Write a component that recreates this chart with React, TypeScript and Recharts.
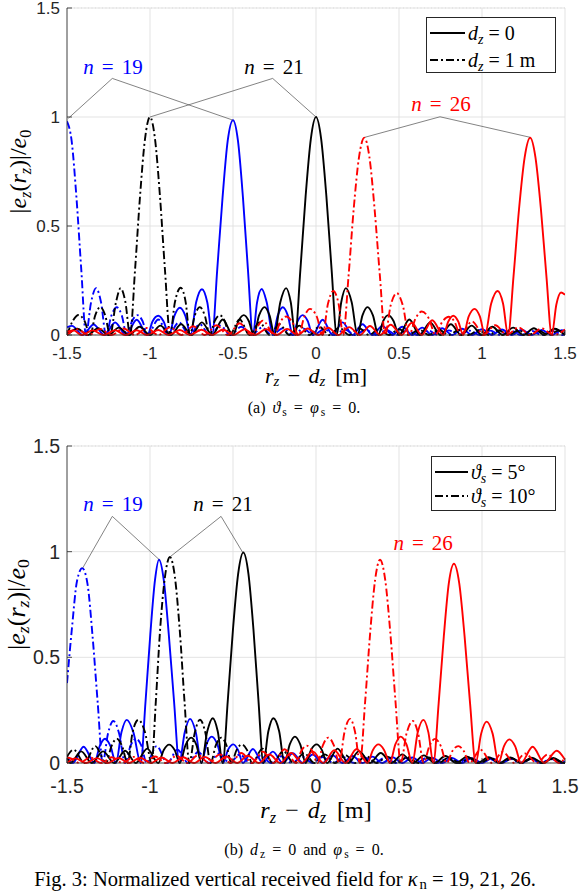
import React from 'react';
import { LineChart, Line, XAxis, YAxis, CartesianGrid, ReferenceLine, ReferenceDot } from 'recharts';

type Pt = [number, number];

const X_TICKS = [-1.5, -1, -0.5, 0, 0.5, 1, 1.5];
const X_MINOR = [-1.5, -1.4, -1.3, -1.2, -1.1, -1, -0.9, -0.8, -0.7, -0.6, -0.5, -0.4, -0.3, -0.2, -0.1, 0, 0.1, 0.2, 0.3, 0.4, 0.5, 0.6, 0.7, 0.8, 0.9, 1, 1.1, 1.2, 1.3, 1.4, 1.5];
const Y_TICKS = [0, 0.5, 1, 1.5];
const Y_MINOR = [0, 0.1, 0.2, 0.3, 0.4, 0.5, 0.6, 0.7, 0.8, 0.9, 1, 1.1, 1.2, 1.3, 1.4, 1.5];

// (a) theta_s = phi_s = 0 ; solid dz = 0, dash-dot dz = 1 m
const A_BLUE_SOLID: Pt[] = [[-1.5,0.035],[-1.47,0.042],[-1.405,0],[-1.34,0.048],[-1.275,0],[-1.21,0.057],[-1.145,0],[-1.08,0.07],[-1.015,0],[-0.985,0.062],[-0.95,0.088],[-0.918,0.062],[-0.885,0],[-0.853,0.088],[-0.82,0.125],[-0.787,0.088],[-0.755,0],[-0.722,0.15],[-0.687,0.21],[-0.655,0.15],[-0.625,0],[-0.595,0.3],[-0.563,0.63],[-0.532,0.89],[-0.5,0.985],[-0.47,0.89],[-0.44,0.63],[-0.41,0.3],[-0.38,0],[-0.355,0.15],[-0.327,0.211],[-0.297,0.15],[-0.26,0],[-0.23,0.09],[-0.2,0.127],[-0.17,0.09],[-0.14,0],[-0.11,0.064],[-0.08,0.091],[-0.05,0.064],[-0.02,0],[0.04,0.07],[0.1,0],[0.16,0.058],[0.22,0],[0.28,0.049],[0.34,0],[0.4,0.042],[0.46,0],[0.52,0.038],[0.58,0],[0.64,0.034],[0.7,0],[0.76,0.031],[0.82,0],[0.88,0.029],[0.94,0],[1.0,0.027],[1.06,0],[1.12,0.025],[1.18,0],[1.24,0.024],[1.3,0],[1.36,0.023],[1.42,0],[1.48,0.022],[1.5,0.02]];
const A_BLUE_DD: Pt[] = [[-1.5,0.98],[-1.472,0.89],[-1.443,0.63],[-1.414,0.3],[-1.386,0],[-1.355,0.15],[-1.325,0.215],[-1.295,0.15],[-1.265,0],[-1.232,0.09],[-1.2,0.127],[-1.17,0.09],[-1.14,0],[-1.108,0.064],[-1.075,0.091],[-1.045,0.064],[-1.015,0],[-0.95,0.071],[-0.89,0],[-0.825,0.058],[-0.765,0],[-0.7,0.049],[-0.64,0],[-0.575,0.043],[-0.515,0],[-0.45,0.038],[-0.39,0],[-0.325,0.034],[-0.265,0],[-0.2,0.031],[-0.14,0],[-0.075,0.029],[-0.015,0],[0.05,0.027],[0.11,0],[0.175,0.025],[0.235,0],[0.3,0.024],[0.36,0],[0.425,0.023],[0.485,0],[0.55,0.022],[0.61,0],[0.675,0.021],[0.735,0],[0.8,0.021],[0.86,0],[0.925,0.02],[0.985,0],[1.05,0.02],[1.11,0],[1.175,0.02],[1.235,0],[1.3,0.019],[1.36,0],[1.425,0.019],[1.485,0],[1.5,0.005]];
const A_BLACK_SOLID: Pt[] = [[-1.5,0],[-1.4375,0.029],[-1.375,0],[-1.3125,0.031],[-1.25,0],[-1.1875,0.034],[-1.125,0],[-1.0625,0.038],[-1.0,0],[-0.9375,0.043],[-0.875,0],[-0.8125,0.049],[-0.75,0],[-0.6875,0.058],[-0.625,0],[-0.562,0.071],[-0.5,0],[-0.467,0.064],[-0.435,0.091],[-0.405,0.064],[-0.375,0],[-0.343,0.09],[-0.31,0.128],[-0.28,0.09],[-0.25,0],[-0.215,0.15],[-0.18,0.215],[-0.152,0.15],[-0.125,0],[-0.094,0.3],[-0.0625,0.637],[-0.031,0.9],[0,1],[0.031,0.9],[0.0625,0.637],[0.094,0.3],[0.125,0],[0.152,0.15],[0.18,0.215],[0.215,0.15],[0.25,0],[0.28,0.09],[0.31,0.128],[0.343,0.09],[0.375,0],[0.405,0.064],[0.435,0.091],[0.467,0.064],[0.5,0],[0.562,0.071],[0.625,0],[0.6875,0.058],[0.75,0],[0.8125,0.049],[0.875,0],[0.9375,0.043],[1.0,0],[1.0625,0.038],[1.125,0],[1.1875,0.034],[1.25,0],[1.3125,0.031],[1.375,0],[1.4375,0.029],[1.5,0]];
const A_BLACK_DD: Pt[] = [[-1.5,0],[-1.465,0.065],[-1.43,0.092],[-1.395,0.065],[-1.36,0],[-1.33,0.09],[-1.3,0.128],[-1.27,0.09],[-1.24,0],[-1.205,0.15],[-1.177,0.215],[-1.148,0.15],[-1.12,0],[-1.09,0.3],[-1.06,0.637],[-1.03,0.9],[-1.0,1.0],[-0.97,0.9],[-0.94,0.637],[-0.91,0.3],[-0.879,0],[-0.85,0.15],[-0.815,0.217],[-0.785,0.15],[-0.76,0],[-0.73,0.09],[-0.7,0.128],[-0.67,0.09],[-0.64,0],[-0.61,0.064],[-0.58,0.091],[-0.55,0.064],[-0.52,0],[-0.46,0.071],[-0.4,0],[-0.34,0.058],[-0.28,0],[-0.22,0.049],[-0.16,0],[-0.1,0.043],[-0.04,0],[0.02,0.038],[0.08,0],[0.14,0.034],[0.2,0],[0.26,0.031],[0.32,0],[0.38,0.029],[0.44,0],[0.5,0.027],[0.56,0],[0.62,0.025],[0.68,0],[0.74,0.024],[0.8,0],[0.86,0.023],[0.92,0],[0.98,0.022],[1.04,0],[1.1,0.021],[1.16,0],[1.22,0.021],[1.28,0],[1.34,0.02],[1.4,0],[1.46,0.02],[1.5,0.012]];
const A_RED_SOLID: Pt[] = [[-1.5,0.015],[-1.46,0.021],[-1.412,0],[-1.345,0.021],[-1.281,0],[-1.21,0.022],[-1.149,0],[-1.08,0.022],[-1.018,0],[-0.95,0.023],[-0.889,0],[-0.82,0.023],[-0.759,0],[-0.69,0.024],[-0.627,0],[-0.56,0.025],[-0.498,0],[-0.43,0.026],[-0.367,0],[-0.3,0.027],[-0.237,0],[-0.174,0.028],[-0.111,0],[-0.05,0.03],[0.014,0],[0.074,0.033],[0.134,0],[0.2,0.036],[0.265,0],[0.325,0.041],[0.386,0],[0.45,0.047],[0.516,0],[0.577,0.056],[0.637,0],[0.7,0.068],[0.767,0],[0.797,0.062],[0.827,0.088],[0.857,0.062],[0.887,0],[0.92,0.085],[0.955,0.12],[0.987,0.085],[1.018,0],[1.055,0.143],[1.094,0.202],[1.127,0.143],[1.157,0],[1.19,0.27],[1.223,0.577],[1.257,0.815],[1.29,0.905],[1.322,0.815],[1.355,0.577],[1.388,0.27],[1.42,0],[1.448,0.14],[1.476,0.195],[1.5,0.185]];
const A_RED_DD: Pt[] = [[-1.5,0],[-1.44,0.026],[-1.37,0],[-1.3,0.028],[-1.23,0],[-1.16,0.03],[-1.09,0],[-1.02,0.032],[-0.95,0],[-0.88,0.035],[-0.81,0],[-0.74,0.04],[-0.67,0],[-0.6,0.045],[-0.53,0],[-0.46,0.054],[-0.39,0],[-0.32,0.066],[-0.25,0],[-0.215,0.06],[-0.18,0.085],[-0.143,0.06],[-0.105,0],[-0.07,0.085],[-0.036,0.12],[0.004,0.085],[0.04,0],[0.072,0.143],[0.104,0.202],[0.136,0.143],[0.164,0],[0.196,0.27],[0.227,0.577],[0.259,0.815],[0.291,0.905],[0.322,0.815],[0.353,0.577],[0.385,0.27],[0.416,0],[0.45,0.136],[0.486,0.192],[0.523,0.136],[0.56,0],[0.6,0.076],[0.637,0.108],[0.68,0.076],[0.72,0],[0.76,0.06],[0.8,0.084],[0.835,0.06],[0.87,0],[0.94,0.062],[1.01,0],[1.08,0.045],[1.15,0],[1.22,0.035],[1.29,0],[1.36,0.03],[1.43,0],[1.5,0.025]];

// (b) dz = 0, phi_s = 0 ; solid theta_s = 5 deg, dash-dot theta_s = 10 deg
const B_BLUE_SOLID: Pt[] = [[-1.5,0.03],[-1.465,0],[-1.4,0.077],[-1.335,0],[-1.303,0.08],[-1.271,0.115],[-1.238,0.08],[-1.205,0],[-1.172,0.145],[-1.14,0.204],[-1.1,0.145],[-1.056,0],[-1.027,0.29],[-0.998,0.61],[-0.97,0.865],[-0.946,0.962],[-0.917,0.865],[-0.887,0.61],[-0.855,0.29],[-0.824,0],[-0.79,0.148],[-0.759,0.209],[-0.725,0.148],[-0.69,0],[-0.66,0.088],[-0.628,0.125],[-0.594,0.088],[-0.56,0],[-0.53,0.062],[-0.498,0.088],[-0.47,0.062],[-0.44,0],[-0.38,0.066],[-0.32,0],[-0.26,0.054],[-0.2,0],[-0.14,0.046],[-0.08,0],[-0.02,0.04],[0.04,0],[0.1,0.036],[0.16,0],[0.22,0.033],[0.28,0],[0.34,0.03],[0.4,0],[0.46,0.028],[0.52,0],[0.58,0.026],[0.64,0],[0.7,0.025],[0.76,0],[0.82,0.024],[0.88,0],[0.94,0.023],[1.0,0],[1.06,0.022],[1.12,0],[1.18,0.022],[1.24,0],[1.3,0.021],[1.36,0],[1.42,0.021],[1.48,0],[1.5,0.008]];
const B_BLUE_DD: Pt[] = [[-1.5,0.378],[-1.47,0.64],[-1.44,0.86],[-1.408,0.922],[-1.377,0.85],[-1.346,0.6],[-1.315,0.285],[-1.285,0],[-1.253,0.14],[-1.221,0.199],[-1.186,0.14],[-1.15,0],[-1.117,0.082],[-1.084,0.115],[-1.052,0.082],[-1.02,0],[-0.96,0.08],[-0.895,0],[-0.835,0.063],[-0.77,0],[-0.71,0.052],[-0.645,0],[-0.585,0.045],[-0.52,0],[-0.46,0.04],[-0.395,0],[-0.335,0.035],[-0.27,0],[-0.21,0.032],[-0.145,0],[-0.085,0.03],[-0.02,0],[0.04,0.028],[0.105,0],[0.165,0.027],[0.23,0],[0.29,0.026],[0.355,0],[0.415,0.025],[0.48,0],[0.54,0.024],[0.605,0],[0.665,0.023],[0.73,0],[0.79,0.022],[0.855,0],[0.915,0.022],[0.98,0],[1.04,0.021],[1.105,0],[1.165,0.021],[1.23,0],[1.29,0.02],[1.355,0],[1.415,0.02],[1.48,0],[1.5,0.006]];
const B_BLACK_SOLID: Pt[] = [[-1.5,0.03],[-1.48,0],[-1.415,0.055],[-1.35,0],[-1.283,0.055],[-1.215,0],[-1.15,0.058],[-1.085,0],[-1.017,0.068],[-0.95,0],[-0.917,0.062],[-0.885,0.087],[-0.852,0.062],[-0.82,0],[-0.786,0.085],[-0.752,0.12],[-0.72,0.085],[-0.69,0],[-0.655,0.15],[-0.622,0.212],[-0.592,0.15],[-0.562,0],[-0.531,0.3],[-0.5,0.634],[-0.469,0.895],[-0.438,0.996],[-0.407,0.895],[-0.377,0.634],[-0.347,0.3],[-0.317,0],[-0.287,0.15],[-0.257,0.212],[-0.222,0.15],[-0.19,0],[-0.158,0.088],[-0.127,0.125],[-0.095,0.088],[-0.062,0],[-0.03,0.062],[0.004,0.088],[0.035,0.062],[0.067,0],[0.13,0.068],[0.195,0],[0.26,0.056],[0.325,0],[0.39,0.047],[0.455,0],[0.52,0.041],[0.585,0],[0.65,0.036],[0.715,0],[0.78,0.033],[0.845,0],[0.91,0.03],[0.975,0],[1.04,0.028],[1.105,0],[1.17,0.026],[1.235,0],[1.3,0.025],[1.365,0],[1.43,0.024],[1.495,0],[1.5,0.002]];
const B_BLACK_DD: Pt[] = [[-1.5,0.03],[-1.46,0.063],[-1.395,0],[-1.33,0.08],[-1.265,0],[-1.232,0.08],[-1.2,0.115],[-1.168,0.08],[-1.135,0],[-1.105,0.145],[-1.07,0.204],[-1.03,0.145],[-0.99,0],[-0.965,0.29],[-0.94,0.62],[-0.91,0.88],[-0.88,0.975],[-0.85,0.88],[-0.82,0.62],[-0.792,0.29],[-0.763,0],[-0.73,0.145],[-0.699,0.205],[-0.667,0.145],[-0.635,0],[-0.603,0.085],[-0.57,0.12],[-0.54,0.085],[-0.51,0],[-0.478,0.062],[-0.447,0.088],[-0.416,0.062],[-0.385,0],[-0.322,0.068],[-0.26,0],[-0.197,0.056],[-0.135,0],[-0.072,0.047],[-0.01,0],[0.053,0.041],[0.115,0],[0.178,0.036],[0.24,0],[0.3,0.033],[0.365,0],[0.43,0.03],[0.49,0],[0.55,0.028],[0.615,0],[0.68,0.026],[0.74,0],[0.8,0.025],[0.865,0],[0.93,0.024],[0.99,0],[1.05,0.023],[1.115,0],[1.18,0.022],[1.24,0],[1.3,0.021],[1.365,0],[1.43,0.02],[1.49,0],[1.5,0.004]];
const B_RED_SOLID: Pt[] = [[-1.5,0],[-1.45,0.022],[-1.385,0],[-1.32,0.023],[-1.255,0],[-1.19,0.024],[-1.125,0],[-1.06,0.025],[-0.995,0],[-0.93,0.026],[-0.865,0],[-0.8,0.027],[-0.735,0],[-0.67,0.029],[-0.605,0],[-0.54,0.031],[-0.475,0],[-0.41,0.034],[-0.345,0],[-0.28,0.04],[-0.215,0],[-0.15,0.048],[-0.085,0],[-0.02,0.055],[0.045,0],[0.11,0.06],[0.178,0],[0.245,0.066],[0.31,0],[0.343,0.062],[0.376,0.088],[0.41,0.062],[0.445,0],[0.478,0.088],[0.51,0.125],[0.545,0.088],[0.58,0],[0.613,0.145],[0.647,0.204],[0.677,0.145],[0.707,0],[0.739,0.283],[0.77,0.6],[0.8,0.85],[0.831,0.943],[0.863,0.85],[0.895,0.6],[0.928,0.283],[0.962,0],[0.995,0.139],[1.028,0.196],[1.064,0.139],[1.1,0],[1.132,0.079],[1.165,0.112],[1.2,0.079],[1.235,0],[1.305,0.077],[1.375,0],[1.45,0.058],[1.5,0.015]];
const B_RED_DD: Pt[] = [[-1.5,0.024],[-1.49,0.025],[-1.425,0],[-1.36,0.026],[-1.295,0],[-1.23,0.027],[-1.165,0],[-1.1,0.029],[-1.035,0],[-0.97,0.031],[-0.905,0],[-0.84,0.034],[-0.775,0],[-0.71,0.037],[-0.645,0],[-0.58,0.041],[-0.515,0],[-0.45,0.047],[-0.385,0],[-0.32,0.054],[-0.255,0],[-0.19,0.065],[-0.12,0],[-0.088,0.058],[-0.056,0.082],[-0.024,0.058],[0.009,0],[0.042,0.085],[0.074,0.12],[0.107,0.085],[0.14,0],[0.172,0.148],[0.205,0.209],[0.235,0.148],[0.265,0],[0.296,0.29],[0.326,0.613],[0.356,0.866],[0.386,0.962],[0.417,0.866],[0.448,0.613],[0.479,0.29],[0.51,0],[0.546,0.141],[0.583,0.199],[0.615,0.141],[0.648,0],[0.683,0.08],[0.717,0.114],[0.752,0.08],[0.787,0],[0.822,0.057],[0.857,0.08],[0.89,0.057],[0.925,0],[0.99,0.063],[1.06,0],[1.125,0.052],[1.195,0],[1.26,0.045],[1.33,0],[1.395,0.04],[1.465,0],[1.5,0.025]];

const BLUE = '#0000ff';
const BLACK = '#000000';
const RED = '#ff0000';
const AXIS = '#262626';
const SANS = '"Liberation Sans", Arial, sans-serif';
const SERIF = '"Liberation Serif", "Times New Roman", serif';
const DASHDOT = '8 3 2 3';

const A_SERIES = [
  { name: 'n19-dz0', pts: A_BLUE_SOLID, color: BLUE, dashed: false },
  { name: 'n19-dz1', pts: A_BLUE_DD, color: BLUE, dashed: true },
  { name: 'n21-dz0', pts: A_BLACK_SOLID, color: BLACK, dashed: false },
  { name: 'n21-dz1', pts: A_BLACK_DD, color: BLACK, dashed: true },
  { name: 'n26-dz0', pts: A_RED_SOLID, color: RED, dashed: false },
  { name: 'n26-dz1', pts: A_RED_DD, color: RED, dashed: true },
];
const B_SERIES = [
  { name: 'n19-5', pts: B_BLUE_SOLID, color: BLUE, dashed: false },
  { name: 'n19-10', pts: B_BLUE_DD, color: BLUE, dashed: true },
  { name: 'n21-5', pts: B_BLACK_SOLID, color: BLACK, dashed: false },
  { name: 'n21-10', pts: B_BLACK_DD, color: BLACK, dashed: true },
  { name: 'n26-5', pts: B_RED_SOLID, color: RED, dashed: false },
  { name: 'n26-10', pts: B_RED_DD, color: RED, dashed: true },
];

// annotation text position, apex of the leader lines and the peaks they point to
const A_NOTES = [
  { num: '19', color: BLUE, at: [-1.223, 1.229], apex: [-1.227, 1.177], ends: [[-1.492, 0.994], [-0.502, 0.986]] },
  { num: '21', color: BLACK, at: [-0.253, 1.229], apex: [-0.261, 1.177], ends: [[-1.0, 1.0], [0.0, 1.0]] },
  { num: '26', color: RED, at: [0.753, 1.06], apex: [0.747, 1.001], ends: [[0.295, 0.907], [1.289, 0.907]] },
];
const B_NOTES = [
  { num: '19', color: BLUE, at: [-1.223, 1.227], apex: [-1.227, 1.167], ends: [[-1.405, 0.923], [-0.944, 0.962]] },
  { num: '21', color: BLACK, at: [-0.56, 1.227], apex: [-0.572, 1.167], ends: [[-0.88, 0.975], [-0.442, 0.997]] },
  { num: '26', color: RED, at: [0.645, 1.043], apex: [0.645, 1.043], ends: [] as number[][] },
];

const A_LEGEND = [
  { sym: 'd', sub: 'z', rest: ' = 0', dash: undefined },
  { sym: 'd', sub: 'z', rest: ' = 1 m', dash: DASHDOT },
];
const B_LEGEND = [
  { sym: 'ϑ', sub: 's', rest: ' = 5°', dash: undefined },
  { sym: 'ϑ', sub: 's', rest: ' = 10°', dash: DASHDOT },
];

const fmt = (v: number) => String(v);

function BottomTick(props: any) {
  const { x, y, payload, fs, dy } = props;
  return (
    <g>
      <line x1={x} x2={x} y1={y} y2={y - 5} stroke={AXIS} strokeWidth={0.8} />
      <text x={x} y={y + dy} textAnchor="middle" dominantBaseline="central" fontFamily={SANS} fontSize={fs} fill={AXIS}>
        {fmt(payload.value)}
      </text>
    </g>
  );
}

function TopTick(props: any) {
  const { x, y, len } = props;
  return <line x1={x} x2={x} y1={y} y2={y + len} stroke={AXIS} strokeWidth={0.8} />;
}

function LeftTick(props: any) {
  const { x, y, payload, fs } = props;
  return (
    <g>
      <line x1={x} x2={x + 5} y1={y} y2={y} stroke={AXIS} strokeWidth={0.8} />
      <text x={x - 7} y={y} textAnchor="end" dominantBaseline="central" fontFamily={SANS} fontSize={fs} fill={AXIS}>
        {fmt(payload.value)}
      </text>
    </g>
  );
}

function RightTick(props: any) {
  const { x, y } = props;
  return <line x1={x} x2={x - 4} y1={y} y2={y} stroke={AXIS} strokeWidth={0.8} />;
}

function XTitle({ viewBox, fs, dy }: any) {
  const { x, y, width } = viewBox;
  const s = fs * 0.68;
  const d = fs * 0.28;
  return (
    <text x={x + width / 2} y={y + dy} textAnchor="middle" dominantBaseline="central" fontFamily={SERIF} fontSize={fs} fill="#000">
      <tspan fontStyle="italic">r</tspan>
      <tspan fontStyle="italic" fontSize={s} dy={d}>z</tspan>
      <tspan dy={-d} dx={fs * 0.38}>−</tspan>
      <tspan fontStyle="italic" dx={fs * 0.38}>d</tspan>
      <tspan fontStyle="italic" fontSize={s} dy={d}>z</tspan>
      <tspan dy={-d} dx={fs * 0.45}>[m]</tspan>
    </text>
  );
}

function YTitle({ viewBox, fs, cxOff }: any) {
  const { x, y, height } = viewBox;
  const cx = x + cxOff;
  const cy = y + height / 2;
  const s = fs * 0.68;
  const d = fs * 0.28;
  return (
    <text x={cx} y={cy} transform={`rotate(-90, ${cx}, ${cy})`} textAnchor="middle" dominantBaseline="central" fontFamily={SERIF} fontSize={fs} fill="#000">
      <tspan>|</tspan>
      <tspan fontStyle="italic">e</tspan>
      <tspan fontStyle="italic" fontSize={s} dy={d}>z</tspan>
      <tspan dy={-d}>(</tspan>
      <tspan fontStyle="italic">r</tspan>
      <tspan fontStyle="italic" fontSize={s} dy={d}>z</tspan>
      <tspan dy={-d}>)|/</tspan>
      <tspan fontStyle="italic">e</tspan>
      <tspan fontSize={s} dy={d}>0</tspan>
    </text>
  );
}

function NoteText({ cx, cy, color, num }: any) {
  return (
    <text x={cx} y={cy} textAnchor="middle" dominantBaseline="central" fontFamily={SERIF} fontSize={21} fill={color}>
      <tspan fontStyle="italic">n</tspan>
      <tspan dx={8}>=</tspan>
      <tspan dx={8}>{num}</tspan>
    </text>
  );
}

function Panel({ series, notes, topTicks, height, marginTop, marginBottom, fs, tickDy, labelFs, labelDy, yLabelFs, yLabelX }: any) {
  const rows = (pts: Pt[]) => pts.map(([x, y]) => ({ x, y }));
  return (
    <LineChart width={580} height={height} margin={{ top: marginTop, right: 15, left: 7, bottom: marginBottom }}>
      <CartesianGrid xAxisId="b" yAxisId="r" vertical={false} stroke="#c4c4c4" strokeDasharray="1 2.5" strokeWidth={0.7} />
      <CartesianGrid xAxisId="b" yAxisId="l" stroke="#e0e0e0" strokeWidth={0.9} />
      <XAxis
        xAxisId="b" dataKey="x" type="number" domain={[-1.5, 1.5]} ticks={X_TICKS} interval={0} allowDataOverflow
        height={30} tickSize={0} tickMargin={0} tickLine={false} axisLine={{ stroke: AXIS, strokeWidth: 0.8 }}
        tick={(p: any) => <BottomTick {...p} fs={fs} dy={tickDy} />}
        label={{ content: (p: any) => <XTitle viewBox={p.viewBox} fs={labelFs} dy={labelDy} /> }}
      />
      <XAxis
        xAxisId="t" orientation="top" type="number" domain={[-1.5, 1.5]} ticks={topTicks} interval={0}
        height={0} tickSize={0} tickMargin={0} tickLine={false} axisLine={{ stroke: AXIS, strokeWidth: 0.8 }}
        tick={(p: any) => <TopTick {...p} len={topTicks.length > 10 ? 4 : 5} />}
      />
      <YAxis
        yAxisId="l" type="number" domain={[0, 1.5]} ticks={Y_TICKS} interval={0} width={60}
        tickSize={0} tickMargin={0} tickLine={false} axisLine={{ stroke: AXIS, strokeWidth: 0.8 }}
        tick={(p: any) => <LeftTick {...p} fs={fs} />}
        label={{ content: (p: any) => <YTitle viewBox={p.viewBox} fs={yLabelFs} cxOff={yLabelX} /> }}
      />
      <YAxis
        yAxisId="r" orientation="right" type="number" domain={[0, 1.5]} ticks={Y_MINOR} interval={0} width={0}
        tickSize={0} tickMargin={0} tickLine={false} axisLine={{ stroke: AXIS, strokeWidth: 0.8 }}
        tick={(p: any) => <RightTick {...p} />}
      />
      {series.map((s: any) => (
        <Line
          key={s.name} xAxisId="b" yAxisId="l" data={rows(s.pts)} dataKey="y" name={s.name} type="monotone"
          stroke={s.color} strokeWidth={1.9} strokeDasharray={s.dashed ? DASHDOT : undefined}
          dot={false} activeDot={false} isAnimationActive={false}
        />
      ))}
      {notes.flatMap((n: any) =>
        n.ends.map((e: number[], i: number) => (
          <ReferenceLine
            key={`${n.num}-${i}`} xAxisId="b" yAxisId="l" ifOverflow="visible"
            segment={[{ x: n.apex[0], y: n.apex[1] }, { x: e[0], y: e[1] }]}
            stroke="#4d4d4d" strokeWidth={0.7}
          />
        ))
      )}
      {notes.map((n: any) => (
        <ReferenceDot
          key={`t-${n.num}`} xAxisId="b" yAxisId="l" x={n.at[0]} y={n.at[1]} r={0} ifOverflow="visible"
          shape={(p: any) => <NoteText cx={p.cx} cy={p.cy} color={n.color} num={n.num} />}
        />
      ))}
    </LineChart>
  );
}

function LegendBox({ left, top, width, height, items, rowTops, sampleW }: any) {
  return (
    <div style={{ position: 'absolute', left, top, width, height, border: `1px solid ${AXIS}`, background: '#fff', boxSizing: 'border-box' }}>
      {items.map((it: any, i: number) => (
        <div key={i} style={{ position: 'absolute', left: 3, top: rowTops[i], height: 24, display: 'flex', alignItems: 'center', whiteSpace: 'nowrap' }}>
          <svg width={sampleW} height={10} style={{ display: 'block' }}>
            <line x1={0} x2={sampleW} y1={5} y2={5} stroke="#000" strokeWidth={1.9} strokeDasharray={it.dash} />
          </svg>
          <span style={{ fontFamily: SERIF, fontSize: 20, marginLeft: 3, lineHeight: '24px' }}>
            <i>{it.sym}</i>
            <sub style={{ fontSize: 14, fontStyle: 'italic', verticalAlign: -4, lineHeight: 0 }}>{it.sub}</sub>
            <span style={{ whiteSpace: 'pre' }}>{it.rest}</span>
          </span>
        </div>
      ))}
    </div>
  );
}

const subStyle: React.CSSProperties = { fontSize: '0.72em', verticalAlign: '-0.22em', lineHeight: 0, marginLeft: 2 };
const capStyle: React.CSSProperties = { position: 'absolute', left: 0, width: 580, textAlign: 'center', fontFamily: SERIF, boxSizing: 'border-box' };

export default function App() {
  return (
    <div style={{ position: 'absolute', left: 0, top: 0, width: 580, height: 894, background: '#fff' }}>
      <div style={{ position: 'absolute', left: 0, top: 0 }}>
        <Panel series={A_SERIES} notes={A_NOTES} topTicks={X_TICKS} height={400} marginTop={8} marginBottom={35} fs={17} tickDy={18} labelFs={22} labelDy={40} yLabelFs={24} yLabelX={11} />
      </div>
      <LegendBox left={426} top={17} width={130} height={56} items={A_LEGEND} rowTops={[3, 30]} sampleW={35} />
      <div style={{ ...capStyle, top: 397, fontSize: 16, lineHeight: '22px', wordSpacing: 3, paddingLeft: 28 }}>
        (a) <i>ϑ</i><sub style={subStyle}>s</sub> = <i>φ</i><sub style={subStyle}>s</sub> = 0.
      </div>
      <div style={{ position: 'absolute', left: 0, top: 418 }}>
        <Panel series={B_SERIES} notes={B_NOTES} topTicks={X_MINOR} height={420} marginTop={28} marginBottom={45} fs={19.5} tickDy={23} labelFs={24} labelDy={47} yLabelFs={26} yLabelX={9} />
      </div>
      <LegendBox left={431} top={456} width={125} height={55} items={B_LEGEND} rowTops={[3, 27]} sampleW={33} />
      <div style={{ ...capStyle, top: 839, fontSize: 16, lineHeight: '22px', wordSpacing: 3, paddingLeft: 28 }}>
        (b) <i>d</i><sub style={subStyle}>z</sub> = 0 and <i>φ</i><sub style={subStyle}>s</sub> = 0.
      </div>
      <div style={{ ...capStyle, top: 868, fontSize: 20.5, lineHeight: '22px', paddingRight: 10 }}>
        Fig. 3: Normalized vertical received field for <i>κ</i><sub style={subStyle}>n</sub> = 19, 21, 26.
      </div>
    </div>
  );
}
